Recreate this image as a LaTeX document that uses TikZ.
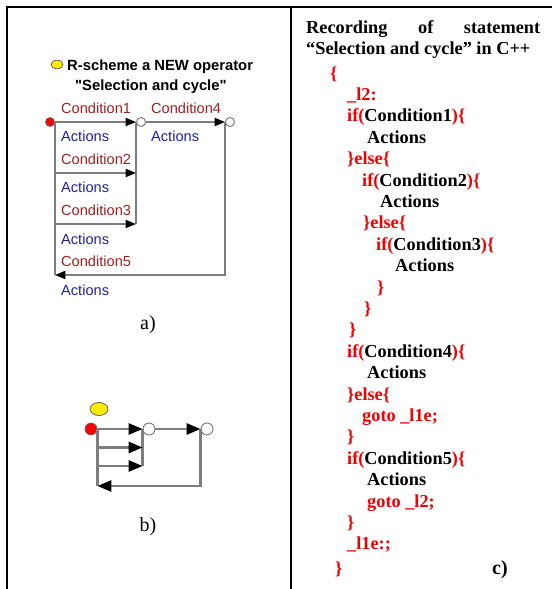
\documentclass[tikz,border=0pt]{standalone}
\usepackage{fontspec}
\setmainfont{Liberation Serif}
\newfontfamily\arialf{Liberation Sans}
\usetikzlibrary{arrows.meta,shapes.geometric}
\definecolor{condred}{RGB}{160,32,32}
\definecolor{actblue}{RGB}{34,34,150}
\definecolor{linegray}{RGB}{125,125,125}
\definecolor{codered}{RGB}{240,0,0}
\definecolor{dotyellow}{RGB}{255,235,0}
\tikzset{
  cond/.style={anchor=west, inner sep=0pt, text=condred, font=\arialf\fontsize{14.6}{17}\selectfont},
  act/.style={anchor=west, inner sep=0pt, text=actblue, font=\arialf\fontsize{14.6}{17}\selectfont},
  ttl/.style={anchor=base west, inner sep=0pt, font=\arialf\bfseries\fontsize{14.8}{17}\selectfont},
  wirea/.style={draw=linegray, line width=2pt},
  wireb/.style={draw=linegray, line width=2.6pt},
  tipa/.style={-{Triangle[length=10.5pt,width=8pt,color=black]}},
  tipb/.style={-{Triangle[length=14pt,width=11pt,color=black]}},
  reddot/.style={circle, fill=red, draw=black!60, line width=0.8pt, inner sep=0pt},
  whitedot/.style={circle, fill=white, draw=black!60, line width=0.8pt, inner sep=0pt},
  yell/.style={ellipse, fill=dotyellow, draw=black!60, line width=0.8pt, inner sep=0pt},
  code/.style={anchor=base west, inner sep=0pt, font=\bfseries\fontsize{18.3}{22}\selectfont},
  lbl/.style={anchor=base, inner sep=0pt, font=\fontsize{20}{24}\selectfont},
  frame/.style={draw=black, line width=2pt}
}
\newcommand{\rc}[1]{\textcolor{codered}{#1}}
\begin{document}
\begin{tikzpicture}[x=1pt,y=-1pt]
\useasboundingbox (0,0) rectangle (552,589);
% frame
\coordinate (ftl) at (7,7);
\coordinate (ftr) at (552,7);
\coordinate (fbl) at (7,589);
\coordinate (fdt) at (291,7);
\coordinate (fdb) at (291,589);
\draw[frame] (fbl) -- (ftl) -- (ftr);
\draw[frame] (fdt) -- (fdb);

% ---------- panel a ----------
\node[yell, minimum width=12pt, minimum height=8.6pt] (ya) at (57,64.5) {};
\node[ttl] (t1) at (67,70.5) {R-scheme a NEW operator};
\node[ttl] (t2) at (75,90) {"Selection and cycle"};

\node[reddot, minimum size=9pt] (sa) at (50,122) {};
\node[whitedot, minimum size=9pt] (ca1) at (141,122) {};
\node[whitedot, minimum size=9pt] (ca2) at (230,122) {};

\coordinate (a2l) at (sa.east |- 0,173);
\coordinate (a2r) at (ca1.west |- 0,173);
\coordinate (a3l) at (sa.east |- 0,224);
\coordinate (a3r) at (ca1.west |- 0,224);
\coordinate (a5l) at (sa.east |- 0,275);
\coordinate (a5r) at (ca2.west |- 0,275);

\draw[wirea] (sa.east) -- (a5l);
\draw[wirea] (ca1.west) -- (a3r);
\draw[wirea, tipa] (sa.east) -- (ca1.west);
\draw[wirea, tipa] (ca1.east) -- (ca2.west);
\draw[wirea, tipa] (a2l) -- (a2r);
\draw[wirea, tipa] (a3l) -- (a3r);
\draw[wirea, tipa] (ca2.west) -- (a5r) -- (a5l);

\node[cond] (c1) at (61,108) {Condition1};
\node[cond] (c4) at (151,108) {Condition4};
\node[act] (ac1) at (61,136) {Actions};
\node[act] (ac4) at (151,136) {Actions};
\node[cond] (c2) at (61,159) {Condition2};
\node[act] (ac2) at (61,187) {Actions};
\node[cond] (c3) at (61,210) {Condition3};
\node[act] (ac3) at (61,239) {Actions};
\node[cond] (c5) at (61,261) {Condition5};
\node[act] (ac5) at (61,290) {Actions};

\node[lbl] (la) at (148,329.5) {a)};

% ---------- panel b ----------
\node[yell, minimum width=18pt, minimum height=13pt] (yb) at (99,409) {};
\node[reddot, minimum size=12pt] (sb) at (91,429) {};
\node[whitedot, minimum size=12pt] (cb1) at (149,429) {};
\node[whitedot, minimum size=12pt] (cb2) at (207,429) {};

\coordinate (b2l) at (sb.east |- 0,447.5);
\coordinate (b2r) at (cb1.west |- 0,447.5);
\coordinate (b3l) at (sb.east |- 0,466);
\coordinate (b3r) at (cb1.west |- 0,466);
\coordinate (b5l) at (sb.east |- 0,486);
\coordinate (b5r) at (cb2.west |- 0,486);

\draw[wireb] (sb.east) -- (b5l);
\draw[wireb] (cb1.west) -- (b3r);
\draw[wireb, tipb] (sb.east) -- (cb1.west);
\draw[wireb, tipb] (cb1.east) -- (cb2.west);
\draw[wireb, tipb] (b2l) -- (b2r);
\draw[wireb, tipb] (b3l) -- (b3r);
\draw[wireb, tipb] (cb2.west) -- (b5r) -- (b5l);

\node[lbl] (lb) at (148,531.5) {b)};

% ---------- panel c ----------
\node[code] (h1) at (306,33) {\hbox to 234pt{Recording\hfill of\hfill statement}};
\node[code] (h2) at (306,54) {“Selection and cycle” in C++};

\node[code] (l0) at (330,79) {\rc{\{}};
\node[code] (l1) at (347,100.4) {\rc{\_l2:}};
\node[code] (l2) at (347,121.8) {\rc{if(}Condition1\rc{)\{}};
\node[code] (l3) at (367,143.2) {Actions};
\node[code] (l4) at (347,164.6) {\rc{\}else\{}};
\node[code] (l5) at (362,186.0) {\rc{if(}Condition2\rc{)\{}};
\node[code] (l6) at (380,207.4) {Actions};
\node[code] (l7) at (363,228.8) {\rc{\}else\{}};
\node[code] (l8) at (376,250.2) {\rc{if(}Condition3\rc{)\{}};
\node[code] (l9) at (395,271.6) {Actions};
\node[code] (l10) at (377,293.0) {\rc{\}}};
\node[code] (l11) at (364,314.4) {\rc{\}}};
\node[code] (l12) at (349,335.8) {\rc{\}}};
\node[code] (l13) at (347,357.2) {\rc{if(}Condition4\rc{)\{}};
\node[code] (l14) at (367,378.6) {Actions};
\node[code] (l15) at (347,400.0) {\rc{\}else\{}};
\node[code] (l16) at (362,421.4) {\rc{goto \_l1e;}};
\node[code] (l17) at (347,442.8) {\rc{\}}};
\node[code] (l18) at (347,464.2) {\rc{if(}Condition5\rc{)\{}};
\node[code] (l19) at (367,485.6) {Actions};
\node[code] (l20) at (367,507.0) {\rc{goto \_l2;}};
\node[code] (l21) at (347,528.4) {\rc{\}}};
\node[code] (l22) at (347,549.8) {\rc{\_l1e:;}};
\node[code] (l23) at (335,574) {\rc{\}}};
\node[code, font=\bfseries\fontsize{20}{24}\selectfont] (lc) at (492,574) {c)};
\end{tikzpicture}
\end{document}
